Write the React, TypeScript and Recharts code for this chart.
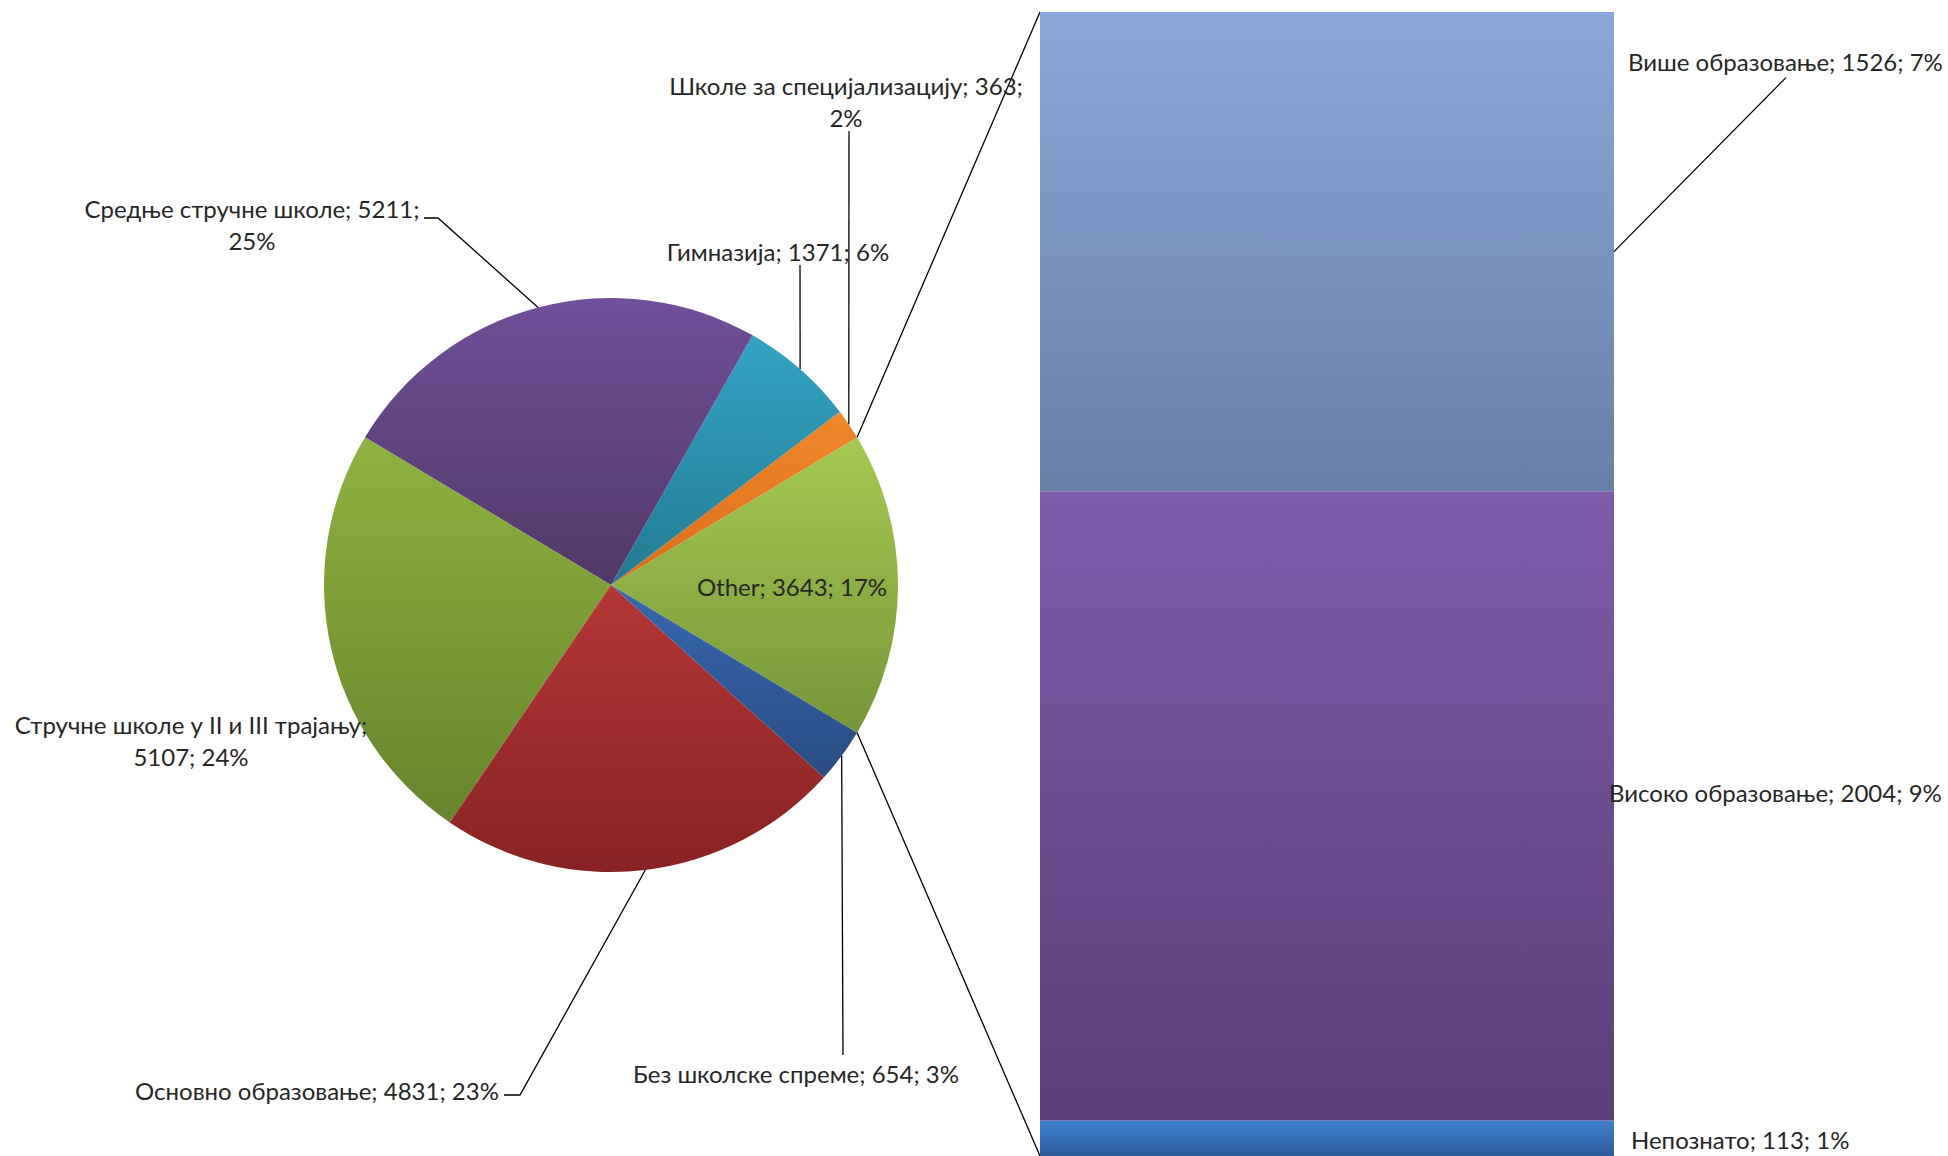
import * as React from "react";
import { Bar, BarChart, Cell, Pie, PieChart, XAxis, YAxis } from "recharts";

// main pie, without the "Other" slice (that one is the sum of the bar)
const pieCategories = [
  "Школе за специјализацију",
  "Гимназија",
  "Средње стручне школе",
  "Стручне школе у II и III трајању",
  "Основно образовање",
  "Без школске спреме",
];
const pieValues = [363, 1371, 5211, 5107, 4831, 654];
const otherName = "Other";

// secondary bar, bottom to top
const barCategories = ["Непознато", "Високо образовање", "Више образовање"];
const barValues = [113, 2004, 1526];

const otherValue = barValues.reduce((a, b) => a + b, 0);
const grandTotal = otherValue + pieValues.reduce((a, b) => a + b, 0);

const pieData = [
  { name: otherName, value: otherValue },
  ...pieCategories.map((name, i) => ({ name, value: pieValues[i] })),
];
const barRow: Record<string, string | number> = { name: otherName };
barCategories.forEach((c, i) => (barRow[c] = barValues[i]));
const barData = [barRow];

const pieColors = [
  ["#A6C951", "#76963A"],
  ["#F28729", "#D96F1B"],
  ["#33A4C3", "#227A92"],
  ["#70509A", "#523867"],
  ["#8EB240", "#67842C"],
  ["#B53737", "#882222"],
  ["#3769B0", "#294C82"],
];
const barColors = [
  ["#3F80CF", "#2C5C9B"],
  ["#7E5BAA", "#5B3E79"],
  ["#89A7D9", "#6780A8"],
];

const FONT = "Lato, 'Open Sans', sans-serif";
const FS = 24;
const TXT = "#262626";

const W = 1948;
const H = 1156;
const CX = 611;
const CY = 585;
const R = 287;
const BAR_LEFT = 1040;
const BAR_TOP = 12;
const BAR_W = 574;
const BAR_H = 1144;

const RAD = Math.PI / 180;
const pct = (v: number) => `${Math.round((v / grandTotal) * 100)}%`;

// label placement, same order as pieData
const pieLabelLayout: {
  x: number;
  y: number;
  breakAt?: number;
  leader?: number[][];
}[] = [
  { x: 792, y: 586 },
  { x: 846, y: 85, breakAt: 2, leader: [[849, 131]] },
  { x: 778, y: 251, leader: [[800, 265]] },
  { x: 252, y: 208, breakAt: 2, leader: [[438, 218], [424, 218]] },
  { x: 191, y: 724, breakAt: 1 },
  { x: 317, y: 1090, leader: [[520, 1095], [504, 1095]] },
  { x: 796, y: 1073, leader: [[843, 1055]] },
];

const barLabelLayout = [
  { dx: 17, dy: 1 },
  { dx: -5, dy: -13 },
  { dx: 14, dy: -190, leader: [158, 16] },
];

function splitLines(parts: string[], breakAt?: number) {
  if (!breakAt) return [parts.join("; ")];
  return [parts.slice(0, breakAt).join("; ") + ";", parts.slice(breakAt).join("; ")];
}

function polar(cx: number, cy: number, r: number, a: number) {
  return [cx + r * Math.cos(-a * RAD), cy + r * Math.sin(-a * RAD)];
}

function renderPieLabel(props: any) {
  const { cx, cy, midAngle, outerRadius, index, percent } = props;
  const d = pieData[index];
  const lay = pieLabelLayout[index];
  const lines = splitLines([d.name, String(d.value), pct(d.value)], lay.breakAt);
  const edge = polar(cx, cy, outerRadius, midAngle);
  const parts: React.ReactNode[] = [];
  if (lay.leader) {
    const pts = [edge, ...lay.leader].map((p) => p.join(",")).join(" ");
    parts.push(<polyline key="l" points={pts} fill="none" stroke="#000" strokeWidth={1.3} />);
  }
  if (index === 0) {
    // connectors from the "Other" slice to the bar corners
    const half = percent * 180;
    const a = polar(cx, cy, outerRadius, midAngle + half);
    const b = polar(cx, cy, outerRadius, midAngle - half);
    parts.push(
      <line key="c1" x1={a[0]} y1={a[1]} x2={BAR_LEFT} y2={BAR_TOP} stroke="#000" strokeWidth={1.3} />,
      <line key="c2" x1={b[0]} y1={b[1]} x2={BAR_LEFT} y2={BAR_TOP + BAR_H} stroke="#000" strokeWidth={1.3} />
    );
  }
  lines.forEach((t, i) =>
    parts.push(
      <text
        key={"t" + i}
        x={lay.x}
        y={lay.y + i * 32}
        textAnchor="middle"
        dominantBaseline="central"
        fontFamily={FONT}
        fontSize={FS}
        fill={TXT}
      >
        {t}
      </text>
    )
  );
  return <g>{parts}</g>;
}

function makeBarLabel(si: number) {
  return (props: any) => {
    const { x, y, width, height } = props;
    const lay = barLabelLayout[si];
    const rx = x + width;
    const ry = y + height / 2;
    const tx = rx + lay.dx;
    const ty = ry + lay.dy;
    const v = barValues[si];
    return (
      <g>
        {lay.leader && (
          <line
            x1={tx + lay.leader[0]}
            y1={ty + lay.leader[1]}
            x2={rx}
            y2={ry}
            stroke="#000"
            strokeWidth={1.3}
          />
        )}
        <text x={tx} y={ty} dominantBaseline="central" fontFamily={FONT} fontSize={FS} fill={TXT}>
          {`${barCategories[si]}; ${v}; ${pct(v)}`}
        </text>
      </g>
    );
  };
}

export default function App() {
  return (
    <div style={{ position: "absolute", left: 0, top: 0, width: W, height: H, background: "#fff" }}>
      <style>{`.recharts-surface{overflow:visible}`}</style>
      <div style={{ position: "absolute", left: 0, top: 0 }}>
        <PieChart width={W} height={H} margin={{ top: 0, right: 0, bottom: 0, left: 0 }}>
          <defs>
            {pieColors.map((c, i) => (
              <linearGradient key={i} id={`pg${i}`} x1="0" y1="0" x2="0" y2="1">
                <stop offset="0%" stopColor={c[0]} />
                <stop offset="100%" stopColor={c[1]} />
              </linearGradient>
            ))}
          </defs>
          <Pie
            data={pieData}
            dataKey="value"
            nameKey="name"
            cx={CX}
            cy={CY}
            outerRadius={R}
            startAngle={-(otherValue / grandTotal) * 180}
            endAngle={360 - (otherValue / grandTotal) * 180}
            stroke="none"
            label={renderPieLabel}
            labelLine={false}
            isAnimationActive={false}
          >
            {pieData.map((_, i) => (
              <Cell key={i} fill={`url(#pg${i})`} />
            ))}
          </Pie>
        </PieChart>
      </div>
      <div style={{ position: "absolute", left: BAR_LEFT, top: BAR_TOP }}>
        <BarChart
          width={BAR_W}
          height={BAR_H}
          data={barData}
          margin={{ top: 0, right: 0, bottom: 0, left: 0 }}
          barCategoryGap={0}
          barGap={0}
        >
          <defs>
            {barColors.map((c, i) => (
              <linearGradient key={i} id={`bg${i}`} x1="0" y1="0" x2="0" y2="1">
                <stop offset="0%" stopColor={c[0]} />
                <stop offset="100%" stopColor={c[1]} />
              </linearGradient>
            ))}
          </defs>
          <XAxis dataKey="name" hide />
          <YAxis hide domain={[0, otherValue]} />
          {barCategories.map((c, i) => (
            <Bar
              key={c}
              dataKey={c}
              stackId="s"
              fill={`url(#bg${i})`}
              isAnimationActive={false}
              label={makeBarLabel(i)}
            />
          ))}
        </BarChart>
      </div>
    </div>
  );
}
